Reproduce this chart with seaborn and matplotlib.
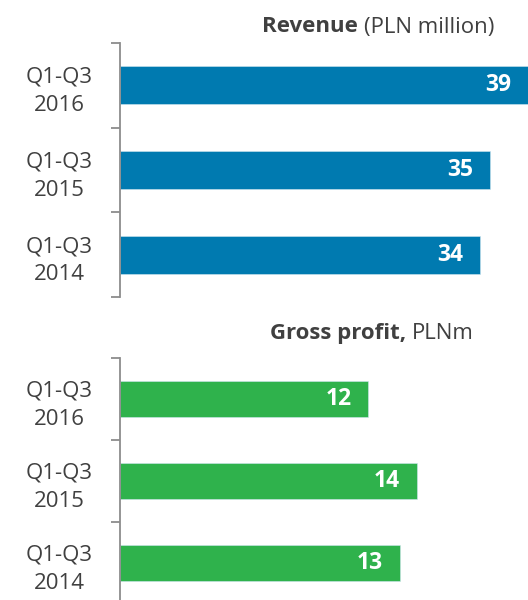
import matplotlib
matplotlib.use("Agg")
import matplotlib.pyplot as plt
import seaborn as sns
import pandas as pd

# data
periods = ["Q1-Q3\n2016", "Q1-Q3\n2015", "Q1-Q3\n2014"]
revenue = [39.0, 35.4, 34.4]        # PLN million
gross_profit = [11.7, 14.0, 13.2]   # PLNm

BLUE = "#007AB0"
GREEN = "#2FB24C"
TEXT = "#404040"
AXIS = "#8c8c8c"

sns.set_style("white")
plt.rcParams["font.family"] = ["Open Sans", "DejaVu Sans"]

DPI = 100
fig = plt.figure(figsize=(5.28, 6.0), dpi=DPI)

# axes boxes in figure fractions (left edge = spine at x=120px)
ax_top = fig.add_axes([120 / 528, 303 / 600, 408 / 528, 254 / 600])
ax_bot = fig.add_axes([120 / 528, -4 / 600, 408 / 528, 246 / 600])


def draw_panel(ax, values, color, xmax):
    df = pd.DataFrame({"period": periods, "value": values})
    sns.barplot(data=df, y="period", x="value", orient="h", color=color,
                width=0.45, saturation=1, edgecolor="#cfe6f0", linewidth=0.4, ax=ax)
    ax.set_xlim(0, xmax)
    ax.set_ylim(2.5, -0.5)
    ax.set_xlabel("")
    ax.set_ylabel("")
    ax.set_xticks([])
    for side in ["top", "right", "bottom"]:
        ax.spines[side].set_visible(False)
    ax.spines["left"].set_color(AXIS)
    ax.spines["left"].set_linewidth(1.3)
    # tick marks at category boundaries only
    ax.set_yticks([-0.5, 0.5, 1.5, 2.5], minor=True)
    ax.tick_params(axis="y", which="minor", length=6.5, width=1.3, color=AXIS, left=True)
    ax.tick_params(axis="y", which="major", length=0, pad=44)
    ax.set_yticks(range(len(periods)))
    ax.set_yticklabels(periods, ha="center", fontsize=16, color=TEXT, linespacing=1.45)
    for i, v in enumerate(values):
        ax.annotate(f"{v:.0f}", xy=(min(v, xmax), i), xytext=(-12, 0),
                    textcoords="offset points", ha="right", va="center",
                    color="white", fontsize=16.5, fontweight="bold")


draw_panel(ax_top, revenue, BLUE, 39.0)
draw_panel(ax_bot, gross_profit, GREEN, 408 / 21.2)


def two_part_title(x_px, y_px, bold, normal):
    renderer = fig.canvas.get_renderer()
    t = fig.text(x_px / 528, 1 - y_px / 600, normal, ha="right", va="center",
                 fontsize=16, color=TEXT)
    bb = t.get_window_extent(renderer)
    fig.text(bb.x0 / 528, 1 - y_px / 600, bold, ha="right", va="center",
             fontsize=16, fontweight="bold", color=TEXT)


two_part_title(494, 27, "Revenue ", "(PLN million)")
two_part_title(474, 333, "Gross profit, ", "PLNm")

fig.savefig("out.png", dpi=DPI)
